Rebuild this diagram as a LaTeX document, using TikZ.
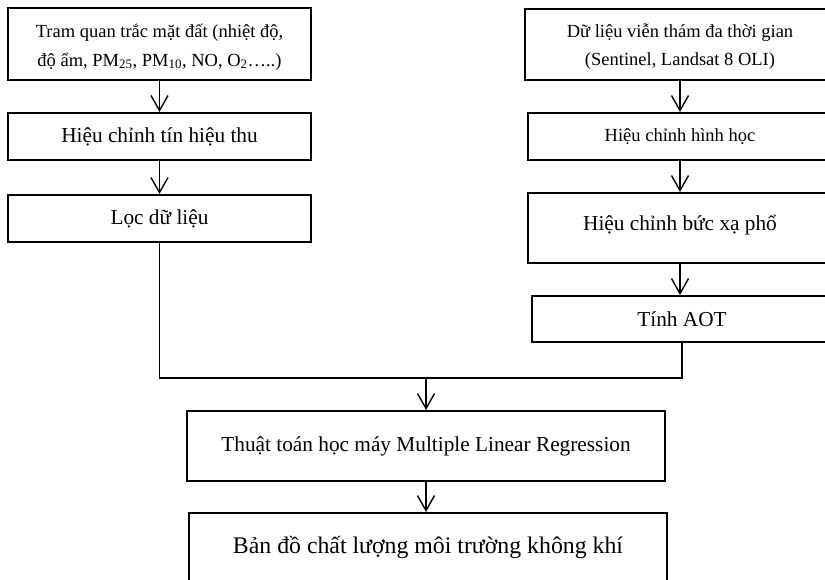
\documentclass[tikz,border=0pt]{standalone}
\usepackage{fontspec}
\setmainfont{Liberation Serif}
\usetikzlibrary{arrows.meta}
\tikzset{
  stepbox/.style={draw, line width=2.1pt, rectangle, inner sep=0pt, align=center},
  conn/.style={line width=1.4pt},
  arr/.style={conn, -{Straight Barb[length=15pt,width=17pt,line width=1.4pt]}},
  fsmall/.style={font=\fontsize{18.5}{28.5}\selectfont},
  fmid/.style={font=\fontsize{21.3}{28}\selectfont},
  fbig/.style={font=\fontsize{23.8}{30}\selectfont}
}
\begin{document}
\begin{tikzpicture}[x=1pt,y=-1pt]
\useasboundingbox (0,0) rectangle (825,580);
\clip (0,0) rectangle (825,580);
% left column
\node[stepbox, fsmall, minimum width=303pt, minimum height=72pt] (L1) at (159.5,44)
  {\rule{0pt}{20pt}Tram quan trắc mặt đất (nhiệt độ,\\độ ẩm, PM\textsubscript{25}, PM\textsubscript{10}, NO, O\textsubscript{2}…..)};
\node[stepbox, fmid, minimum width=303pt, minimum height=47pt] (L2) at (159.5,136.5) {Hiệu chỉnh tín hiệu thu};
\node[stepbox, fmid, minimum width=303pt, minimum height=47pt] (L3) at (159.5,218.5) {Lọc dữ liệu};
% right column
\node[stepbox, fsmall, minimum width=310pt, minimum height=71pt] (R1) at (680,44.5)
  {\rule{0pt}{18pt}Dữ liệu viễn thám đa thời gian\\(Sentinel, Landsat 8 OLI)};
\node[stepbox, fsmall, minimum width=304pt, minimum height=47pt] (R2) at (680,136.5) {Hiệu chỉnh hình học};
\node[stepbox, fmid, minimum width=304pt, minimum height=70pt, text depth=10pt] (R3) at (680,228) {Hiệu chỉnh bức xạ phổ};
\node[stepbox, fmid, minimum width=300pt, minimum height=46pt] (R4) at (682,319) {Tính AOT};
% bottom
\node[stepbox, fmid, minimum width=478pt, minimum height=70pt] (M) at (426,446) {Thuật toán học máy Multiple Linear Regression};
\node[stepbox, fbig, minimum width=478pt, minimum height=69pt] (B) at (428,547.5) {Bản đồ chất lượng môi trường không khí};
% connectors
\draw[arr] (L1.south) -- (L2.north);
\draw[arr] (L2.south) -- (L3.north);
\draw[arr] (R1.south) -- (R2.north);
\draw[arr] (R2.south) -- (R3.north);
\draw[arr] (R3.south) -- (R3.south |- R4.north);
\coordinate (join) at (426,378);
\draw[conn] (L3.south) |- (join) -| (R4.south);
\draw[arr] (join) -- (M.north);
\draw[arr] (M.south) -- (M.south |- B.north);
\end{tikzpicture}
\end{document}
